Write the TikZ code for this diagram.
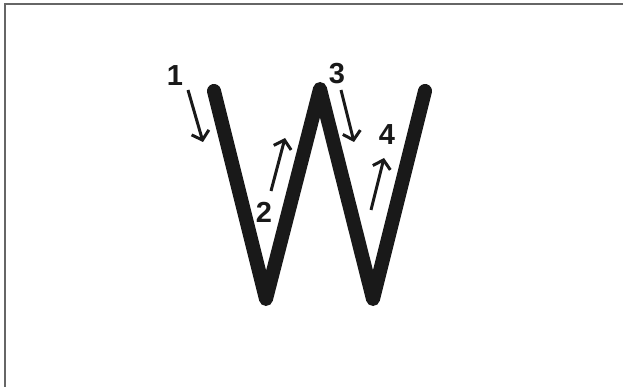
\documentclass[tikz,border=0pt]{standalone}
\usepackage{fontspec}
\setmainfont{Liberation Sans}
\usetikzlibrary{arrows.meta}
\begin{document}
\begin{tikzpicture}[x=1pt,y=-1pt,
  stroke/.style={line width=14pt,line cap=round,line join=round,color=black!90},
  hint/.style={line width=3pt,color=black!90,-{Straight Barb[length=8pt,width=18pt,line width=3pt]}},
  num/.style={font=\fontsize{29}{29}\selectfont\bfseries,text=black!90,inner sep=0pt}]
\useasboundingbox (0,0) rectangle (623,387);
\fill[white] (0,0) rectangle (623,387);
\draw[black!60,line width=2pt] (5,387) -- (5,4) -- (623,4);
% W
\coordinate (p1) at (214,91);
\coordinate (p2) at (266,299);
\coordinate (p3) at (320,89);
\coordinate (p4) at (373,299);
\coordinate (p5) at (425,91);
\draw[stroke] (p1) -- (p2) -- (p3) -- (p4) -- (p5);
% arrows
\coordinate (a1s) at (188,90);  \coordinate (a1e) at (203,142);
\coordinate (a2s) at (271,191); \coordinate (a2e) at (285,138);
\coordinate (a3s) at (341,90);  \coordinate (a3e) at (354,142);
\coordinate (a4s) at (371,210); \coordinate (a4e) at (384,158);
\draw[hint] (a1s) -- (a1e);
\draw[hint] (a2s) -- (a2e);
\draw[hint] (a3s) -- (a3e);
\draw[hint] (a4s) -- (a4e);
\node[num] (n1) at (175,76) {1};
\node[num] (n2) at (264,212) {2};
\node[num] (n3) at (337,74) {3};
\node[num] (n4) at (387,135) {4};
\end{tikzpicture}
\end{document}
